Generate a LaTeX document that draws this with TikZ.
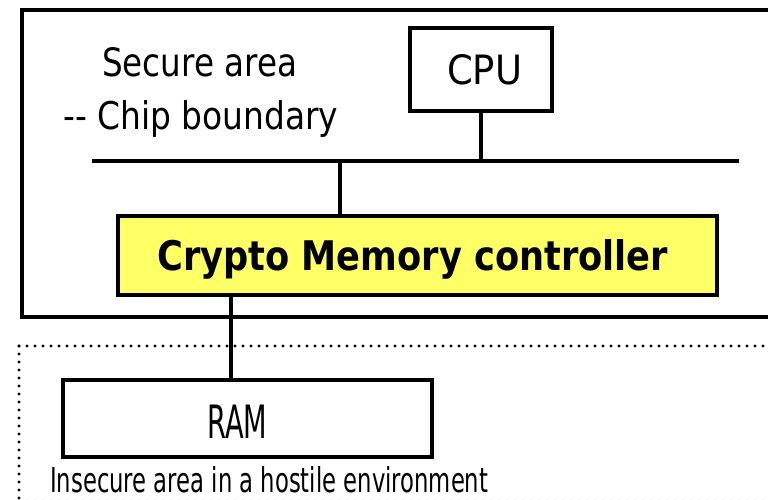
\documentclass[tikz,border=0pt]{standalone}
\usepackage{fontspec}
\setmainfont{DejaVu Sans}
\usepackage{graphicx}
\definecolor{boxyellow}{RGB}{255,255,102}
\begin{document}
\begin{tikzpicture}[x=1pt,y=-1pt,
  boxline/.style={draw=black,line width=4pt},
  plainbox/.style={boxline,rectangle,inner sep=0pt,anchor=north west},
  txt/.style={inner sep=0pt,anchor=base west},
  dotline/.style={draw=black,line width=3.2pt,line cap=round,dash pattern=on 0pt off 8pt}]
\useasboundingbox (0,0) rectangle (768,500);
\clip (0,0) rectangle (768,500);
\fill[white] (0,0) rectangle (768,500);
% areas
\node[plainbox,minimum width=780pt,minimum height=307pt] (secure) at (20,8) {};
\draw[dotline] (19,346) -- (800,346);
\draw[dotline] (19,346) -- (19,501);
\draw[dotline,draw=black!25] (19,501) -- (800,501);
% bus
\coordinate (busL) at (92,161);
\coordinate (busR) at (739,161);
\draw[boxline] (busL) -- (busR);
% boxes
\node[plainbox,minimum width=142pt,minimum height=83pt] (cpu) at (408,26) {};
\node[plainbox,fill=boxyellow,minimum width=599pt,minimum height=79pt] (crypto) at (116,214) {};
\node[plainbox,minimum width=369pt,minimum height=77pt] (ram) at (61,378) {};
% connectors
\coordinate (j1) at (340,161);
\coordinate (j2) at (231,293);
\draw[boxline] (cpu.south) -- (cpu.south |- busL);
\draw[boxline] (j1) -- (j1 |- crypto.north);
\draw[boxline] (j2) -- (j2 |- ram.north);
% texts
\node[txt] (t1) at (102,77) {\resizebox{195pt}{29pt}{Secure area}};
\node[txt] (t2) at (63,130) {\resizebox{275pt}{29pt}{{-}{-} Chip boundary}};
\node[txt] (t3) at (447,85) {\resizebox{75pt}{30pt}{CPU}};
\node[txt] (t4) at (157,270) {\resizebox{511pt}{31pt}{\bfseries Crypto Memory controller}};
\node[txt] (t5) at (207,438) {\resizebox{60pt}{33.5pt}{RAM}};
\node[txt] (t6) at (50,492) {\resizebox{438pt}{26pt}{Insecure area in a hostile environment}};
\end{tikzpicture}
\end{document}
